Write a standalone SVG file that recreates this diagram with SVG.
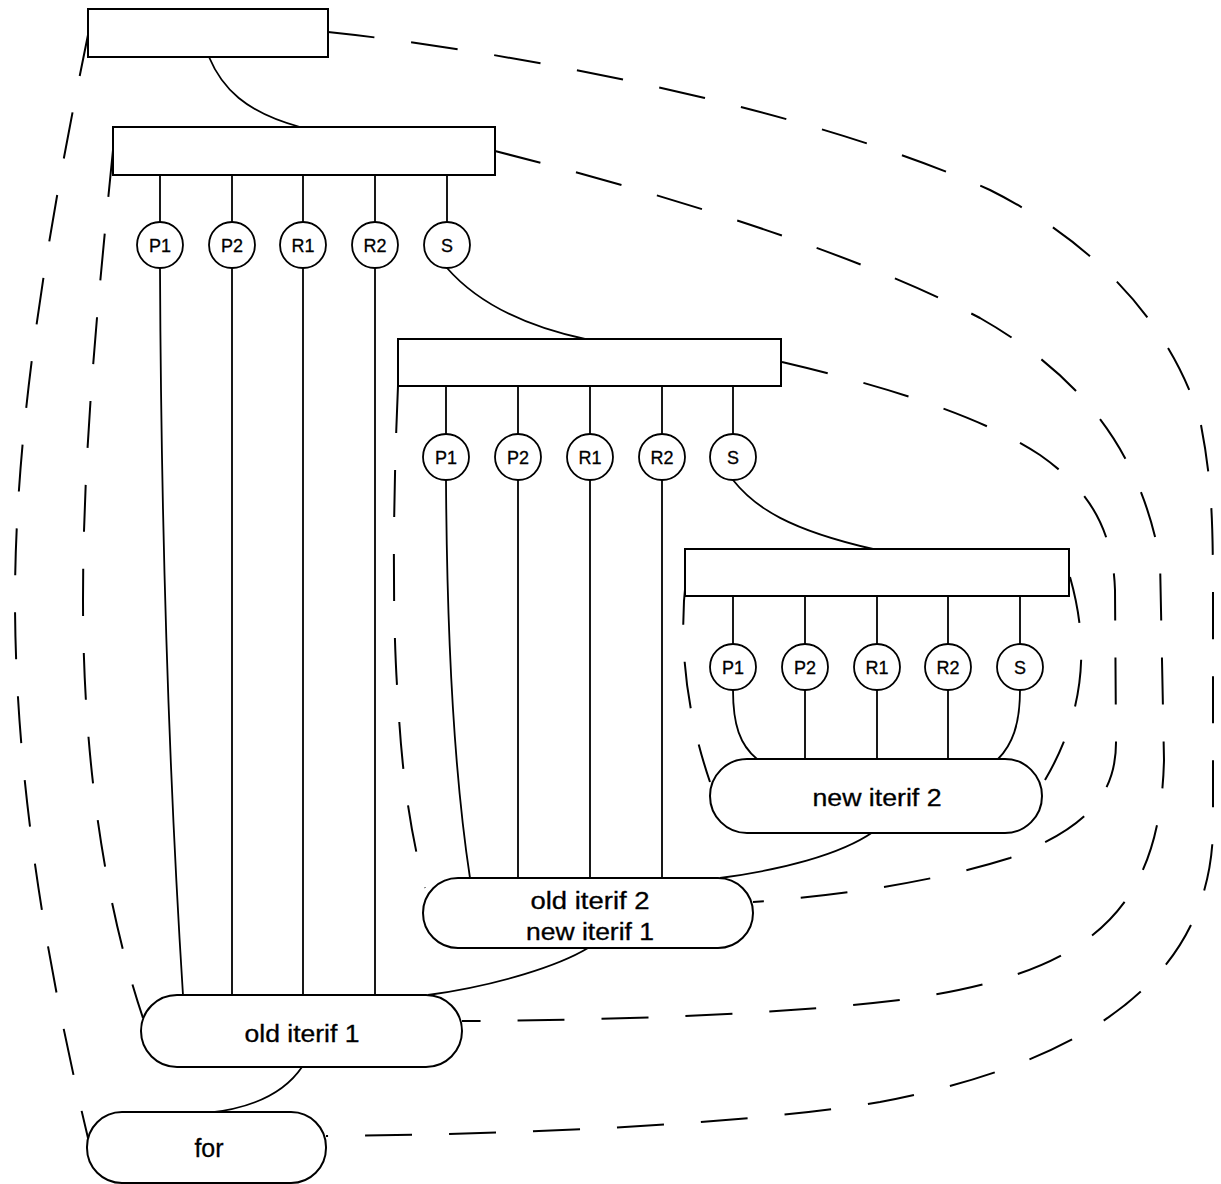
<svg xmlns="http://www.w3.org/2000/svg" width="1221" height="1184" viewBox="0 0 1221 1184">
<style>
.box{fill:#fff;stroke:#000;stroke-width:2}
.pill{fill:#fff;stroke:#000;stroke-width:2}
.port{fill:#fff;stroke:#000;stroke-width:1.8}
.ln{fill:none;stroke:#000;stroke-width:1.8}
.dash{fill:none;stroke:#000;stroke-width:2;stroke-dasharray:47 37}
.pt{font-family:"Liberation Sans",Arial,sans-serif;font-size:18px;text-anchor:middle;fill:#000;stroke:#000;stroke-width:0.3}
.lb{font-family:"Liberation Sans",Arial,sans-serif;font-size:23px;text-anchor:middle;fill:#000;stroke:#000;stroke-width:0.3}
</style>
<rect width="1221" height="1184" fill="#fff"/>
<g id="connectors">
  <path class="dash" d="M328,32 C500,50 800,105 990,190 C1090,240 1170,320 1200,420 C1212,480 1213,520 1213,600 L1213,830 C1210,970 1100,1060 880,1102 C760,1122 560,1134 326,1136"/>
  <path class="dash" d="M89,30 C50,220 15,420 15,600 C15,800 55,1000 88,1138"/>
  <path class="dash" d="M495,151 C650,190 850,250 980,318 C1080,375 1140,450 1160,560 L1164,760 C1160,920 1080,975 900,1000 C800,1012 650,1020 462,1021"/>
  <path class="dash" d="M113,150 C98,300 83,450 83,600 C83,780 110,920 143,1018"/>
  <path class="dash" d="M782,362 C880,385 980,415 1040,455 C1090,490 1113,530 1115,590 L1116,740 C1117,800 1080,830 1010,858 C940,880 850,895 753,902"/>
  <path class="dash" d="M398,386 C393,500 392,620 398,700 C402,780 412,840 425,888"/>
  <path class="dash" d="M1070,577 C1085,630 1092,700 1045,780"/>
  <path class="dash" d="M686,578 C680,630 682,700 710,782"/>
  <path class="ln" d="M209,57 C222,88 245,112 300,127"/>
  <path class="ln" d="M160,175 V222 M232,175 V222 M303,175 V222 M375,175 V222 M447,175 V222"/>
  <path class="ln" d="M160,268 C161,500 168,760 183,995"/>
  <path class="ln" d="M232,268 V995 M303,268 V995 M375,268 V995"/>
  <path class="ln" d="M447,268 C475,300 520,325 585,339"/>
  <path class="ln" d="M446,386 V434 M518,386 V434 M590,386 V434 M662,386 V434 M733,386 V434"/>
  <path class="ln" d="M446,480 C447,650 455,780 470,878"/>
  <path class="ln" d="M518,480 V878 M590,480 V878 M662,480 V878"/>
  <path class="ln" d="M733,480 C755,508 790,530 873,549"/>
  <path class="ln" d="M733,596 V644 M805,596 V644 M877,596 V644 M948,596 V644 M1020,596 V644"/>
  <path class="ln" d="M733,690 C733,725 740,745 757,759"/>
  <path class="ln" d="M805,690 V759 M877,690 V759 M948,690 V759"/>
  <path class="ln" d="M1020,690 C1020,725 1012,745 998,759"/>
  <path class="ln" d="M873,832 C840,855 780,870 720,878"/>
  <path class="ln" d="M588,948 C560,965 500,985 428,995"/>
  <path class="ln" d="M302,1067 C285,1092 255,1108 207,1113"/>
</g>
<g id="rect1"><rect class="box" x="88" y="9" width="240" height="48"/></g>
<g id="rect2"><rect class="box" x="113" y="127" width="382" height="48"/></g>
<g id="rect3"><rect class="box" x="398" y="339" width="383" height="47"/></g>
<g id="rect4"><rect class="box" x="685" y="549" width="384" height="47"/></g>
<g id="row1-P1"><circle class="port" cx="160" cy="245" r="23"/><text class="pt" x="160" y="252">P1</text></g>
<g id="row1-P2"><circle class="port" cx="232" cy="245" r="23"/><text class="pt" x="232" y="252">P2</text></g>
<g id="row1-R1"><circle class="port" cx="303" cy="245" r="23"/><text class="pt" x="303" y="252">R1</text></g>
<g id="row1-R2"><circle class="port" cx="375" cy="245" r="23"/><text class="pt" x="375" y="252">R2</text></g>
<g id="row1-S"><circle class="port" cx="447" cy="245" r="23"/><text class="pt" x="447" y="252">S</text></g>
<g id="row2-P1"><circle class="port" cx="446" cy="457" r="23"/><text class="pt" x="446" y="464">P1</text></g>
<g id="row2-P2"><circle class="port" cx="518" cy="457" r="23"/><text class="pt" x="518" y="464">P2</text></g>
<g id="row2-R1"><circle class="port" cx="590" cy="457" r="23"/><text class="pt" x="590" y="464">R1</text></g>
<g id="row2-R2"><circle class="port" cx="662" cy="457" r="23"/><text class="pt" x="662" y="464">R2</text></g>
<g id="row2-S"><circle class="port" cx="733" cy="457" r="23"/><text class="pt" x="733" y="464">S</text></g>
<g id="row3-P1"><circle class="port" cx="733" cy="667" r="23"/><text class="pt" x="733" y="674">P1</text></g>
<g id="row3-P2"><circle class="port" cx="805" cy="667" r="23"/><text class="pt" x="805" y="674">P2</text></g>
<g id="row3-R1"><circle class="port" cx="877" cy="667" r="23"/><text class="pt" x="877" y="674">R1</text></g>
<g id="row3-R2"><circle class="port" cx="948" cy="667" r="23"/><text class="pt" x="948" y="674">R2</text></g>
<g id="row3-S"><circle class="port" cx="1020" cy="667" r="23"/><text class="pt" x="1020" y="674">S</text></g>
<g id="new-iterif-2"><rect class="pill" x="710" y="759" width="332" height="74" rx="37" ry="37"/><text class="lb" x="877" y="806" textLength="129" lengthAdjust="spacingAndGlyphs">new iterif 2</text></g>
<g id="old-iterif-2"><rect class="pill" x="423" y="878" width="330" height="70" rx="35" ry="35"/><text class="lb" x="590" y="909" textLength="119" lengthAdjust="spacingAndGlyphs">old iterif 2</text><text class="lb" x="590" y="940" textLength="128" lengthAdjust="spacingAndGlyphs">new iterif 1</text></g>
<g id="old-iterif-1"><rect class="pill" x="141" y="995" width="321" height="72" rx="36" ry="36"/><text class="lb" x="302" y="1042" textLength="115" lengthAdjust="spacingAndGlyphs">old iterif 1</text></g>
<g id="for"><rect class="pill" x="87" y="1112" width="239" height="71" rx="35" ry="35"/><text class="lb" x="209" y="1157" style="font-size:25px">for</text></g>
</svg>
